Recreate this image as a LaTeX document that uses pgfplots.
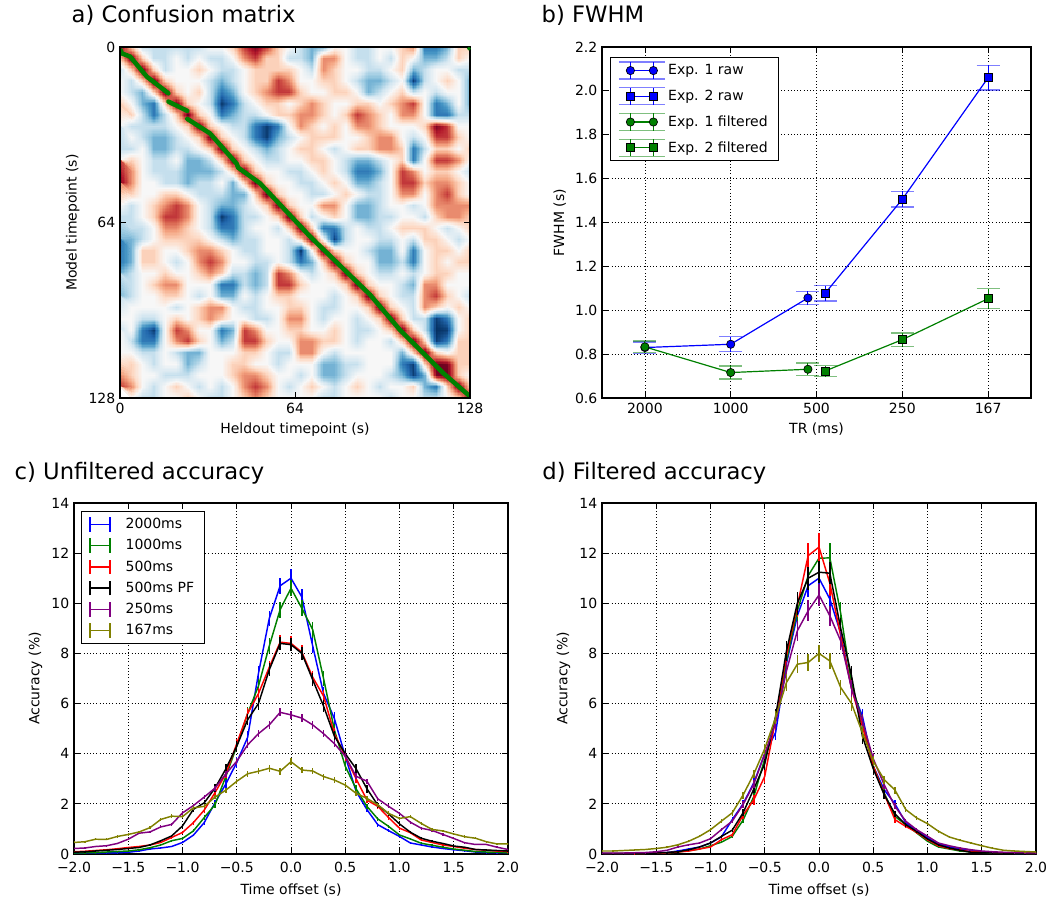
\documentclass[border=0pt]{standalone}
\usepackage{fontspec}
\setmainfont{DejaVu Sans}
\usepackage{pgfplots}
\usepackage{pgfplotstable}
\usepgfplotslibrary{patchplots}
\pgfplotsset{compat=1.18}

\definecolor{mblue}{rgb}{0,0,1}
\definecolor{mgreen}{rgb}{0,0.5,0}
\definecolor{mred}{rgb}{1,0,0}
\definecolor{mpurple}{rgb}{0.5,0,0.5}
\definecolor{molive}{rgb}{0.5,0.5,0}

% confusion matrix, 32 x 32 blocks of 4 timepoints, rows = model timepoint
\pgfplotstableread[row sep=\\]{c\\
8\\1\\-1\\-1\\-1\\-1\\-1\\-1\\0\\0\\1\\3\\4\\3\\1\\0\\-1\\-2\\-2\\0\\0\\-1\\-1\\0\\0\\1\\2\\-3\\-3\\-2\\1\\1\\
1\\8\\1\\-1\\-1\\0\\-1\\0\\-1\\-1\\0\\2\\3\\1\\1\\-1\\-1\\-2\\2\\2\\0\\-1\\-1\\0\\-1\\1\\0\\-2\\-2\\-1\\1\\0\\
-1\\1\\8\\1\\-1\\0\\0\\1\\0\\-1\\-1\\0\\1\\1\\1\\1\\0\\-1\\2\\1\\0\\0\\-1\\-1\\0\\1\\-2\\-1\\0\\0\\-1\\-1\\
0\\-1\\1\\8\\1\\0\\0\\0\\-1\\-2\\-1\\0\\1\\1\\3\\2\\0\\0\\1\\1\\0\\-1\\-2\\-2\\-1\\0\\-4\\-1\\0\\1\\0\\-2\\
0\\-1\\-2\\1\\8\\1\\0\\1\\-1\\-3\\-2\\0\\1\\2\\3\\3\\1\\0\\0\\1\\1\\0\\-2\\-1\\0\\1\\-1\\0\\-1\\0\\0\\-2\\
1\\0\\-2\\-3\\1\\8\\1\\0\\-1\\-4\\-3\\-1\\0\\1\\1\\0\\1\\2\\1\\0\\0\\1\\1\\0\\1\\2\\3\\0\\-3\\-2\\0\\-2\\
1\\1\\-1\\-3\\-1\\1\\8\\1\\0\\-3\\-2\\-1\\-1\\0\\1\\1\\2\\2\\1\\0\\1\\3\\2\\1\\0\\2\\2\\0\\-3\\-3\\-1\\-1\\
0\\-1\\-1\\-1\\-1\\0\\1\\8\\1\\0\\-1\\-1\\-3\\-4\\-3\\0\\2\\1\\0\\1\\0\\2\\2\\1\\0\\0\\0\\1\\4\\3\\0\\0\\
-1\\0\\-1\\-2\\-2\\-1\\0\\1\\8\\1\\0\\-1\\-3\\-4\\-2\\-1\\0\\1\\1\\1\\0\\0\\1\\2\\2\\0\\-1\\0\\3\\3\\1\\0\\
-1\\-1\\0\\-2\\-2\\-1\\-1\\0\\1\\8\\1\\0\\-1\\-2\\-1\\0\\1\\1\\0\\-1\\0\\1\\1\\2\\2\\1\\-3\\-1\\1\\1\\0\\1\\
0\\1\\0\\-1\\-1\\0\\-2\\-2\\-1\\1\\8\\1\\0\\-1\\-1\\0\\0\\1\\1\\0\\-1\\-2\\-2\\-1\\0\\1\\-3\\0\\3\\3\\2\\0\\
3\\2\\0\\-1\\-1\\-1\\-2\\-2\\-2\\-1\\1\\8\\1\\0\\0\\-1\\-1\\0\\1\\0\\-1\\-3\\-3\\-2\\0\\3\\2\\0\\1\\1\\0\\-1\\
4\\2\\0\\0\\-1\\-1\\-2\\-1\\-1\\0\\-2\\1\\8\\1\\0\\0\\-1\\-1\\0\\1\\0\\-2\\-2\\-1\\0\\3\\3\\1\\2\\2\\1\\0\\
2\\1\\0\\0\\1\\1\\0\\-1\\-1\\-1\\-2\\-2\\1\\8\\1\\0\\0\\-1\\-1\\0\\1\\0\\-1\\-1\\0\\2\\2\\0\\2\\3\\1\\0\\
0\\-1\\0\\1\\2\\3\\2\\0\\-1\\-2\\-2\\-1\\0\\1\\8\\1\\0\\0\\2\\2\\0\\-2\\-2\\-1\\0\\0\\-1\\0\\2\\2\\2\\2\\
-1\\-1\\0\\1\\3\\3\\2\\0\\-1\\-4\\-3\\-1\\-1\\0\\1\\8\\1\\-1\\0\\1\\0\\-2\\-2\\-1\\-1\\0\\0\\-1\\1\\2\\2\\1\\
-1\\-1\\-1\\0\\2\\2\\1\\0\\-1\\-3\\-3\\-1\\0\\0\\-1\\1\\8\\1\\-3\\-3\\-1\\0\\-1\\-1\\0\\1\\1\\1\\0\\-1\\0\\1\\
-2\\-2\\-1\\0\\1\\1\\1\\1\\0\\-1\\-2\\-1\\-1\\0\\0\\-1\\1\\8\\0\\-4\\-1\\0\\0\\-1\\-1\\0\\-1\\1\\1\\0\\-1\\0\\
-3\\-2\\1\\1\\0\\0\\1\\2\\2\\1\\0\\-1\\-1\\0\\0\\-1\\-4\\0\\8\\1\\0\\0\\-1\\-2\\-2\\0\\-3\\0\\1\\1\\0\\1\\
-3\\-2\\1\\1\\0\\-1\\0\\2\\3\\2\\0\\0\\-1\\-1\\0\\-1\\-3\\-2\\1\\8\\1\\0\\0\\-2\\-2\\-1\\-3\\0\\1\\0\\1\\1\\
-2\\-1\\0\\0\\1\\0\\0\\1\\2\\1\\-1\\-1\\-2\\-1\\3\\2\\0\\-1\\0\\1\\8\\1\\0\\-1\\-1\\0\\-1\\0\\1\\1\\0\\0\\
-1\\-1\\0\\1\\2\\2\\0\\0\\0\\-3\\-3\\-1\\-2\\-1\\3\\3\\1\\0\\0\\0\\1\\8\\1\\0\\0\\-1\\-2\\2\\2\\0\\0\\0\\
-2\\-1\\0\\0\\1\\1\\0\\-1\\0\\-2\\-2\\0\\-1\\0\\1\\1\\0\\0\\0\\-1\\0\\1\\8\\1\\0\\-1\\-1\\2\\3\\1\\0\\-1\\
-1\\0\\0\\0\\0\\-1\\0\\1\\2\\2\\0\\-1\\-1\\0\\0\\1\\1\\0\\-1\\-1\\0\\0\\1\\8\\1\\0\\-1\\2\\1\\0\\1\\0\\
0\\0\\-1\\-1\\0\\1\\0\\1\\2\\1\\0\\0\\-1\\-1\\0\\2\\2\\0\\-1\\0\\0\\-1\\0\\1\\8\\1\\-1\\-1\\-4\\-3\\0\\1\\
-1\\0\\-3\\-4\\0\\3\\2\\0\\0\\-3\\-2\\3\\2\\0\\0\\1\\1\\0\\0\\1\\0\\-1\\-1\\0\\1\\8\\1\\-1\\-5\\-4\\0\\1\\
0\\-1\\-3\\-3\\0\\2\\3\\1\\0\\-2\\-1\\3\\3\\1\\0\\0\\2\\2\\1\\1\\0\\-1\\0\\0\\-1\\1\\8\\1\\-4\\-3\\1\\1\\
0\\0\\-1\\-1\\0\\-1\\-2\\-2\\0\\0\\0\\1\\1\\0\\-1\\-1\\2\\2\\0\\-1\\0\\0\\0\\0\\0\\-2\\1\\8\\1\\0\\1\\1\\
0\\1\\0\\-1\\0\\0\\-2\\-1\\0\\0\\1\\1\\0\\0\\-1\\0\\0\\0\\-2\\-2\\-1\\-1\\0\\0\\0\\-3\\-4\\1\\8\\4\\1\\1\\
2\\1\\0\\0\\-1\\-1\\-1\\0\\0\\0\\1\\2\\2\\1\\0\\0\\-1\\0\\-2\\-2\\-1\\0\\0\\0\\-1\\-2\\-4\\-2\\4\\8\\1\\0\\
3\\2\\0\\-1\\0\\1\\0\\-1\\0\\-1\\0\\2\\3\\2\\0\\-1\\0\\1\\0\\-1\\0\\1\\0\\-1\\0\\0\\1\\-2\\-3\\1\\8\\1\\
0\\0\\-1\\-1\\0\\0\\1\\0\\-1\\-1\\0\\1\\2\\1\\0\\0\\0\\0\\-1\\-1\\0\\0\\0\\0\\-1\\0\\0\\-1\\-1\\0\\1\\8\\
}\conf

% unfiltered accuracy (%) and standard errors
\pgfplotstableread{
t b g r k p o eb eg er ek ep eo
-2.0 0.04 0.04 0.09 0.07 0.22 0.46 0.02 0.02 0.02 0.02 0.03 0.04
-1.9 0.04 0.05 0.11 0.09 0.24 0.49 0.02 0.02 0.02 0.02 0.03 0.04
-1.8 0.04 0.06 0.14 0.12 0.30 0.59 0.02 0.02 0.02 0.02 0.03 0.04
-1.7 0.04 0.08 0.17 0.15 0.33 0.58 0.02 0.02 0.02 0.02 0.03 0.04
-1.6 0.05 0.10 0.21 0.18 0.42 0.70 0.02 0.02 0.02 0.02 0.03 0.05
-1.5 0.07 0.12 0.26 0.22 0.59 0.78 0.02 0.02 0.03 0.03 0.04 0.05
-1.4 0.12 0.17 0.30 0.26 0.83 0.88 0.02 0.02 0.03 0.03 0.05 0.05
-1.3 0.20 0.25 0.36 0.36 0.88 1.05 0.02 0.03 0.03 0.03 0.05 0.06
-1.2 0.24 0.36 0.46 0.53 1.08 1.38 0.03 0.03 0.04 0.04 0.06 0.07
-1.1 0.30 0.53 0.66 0.72 1.18 1.51 0.03 0.04 0.05 0.05 0.06 0.07
-1.0 0.46 0.62 0.86 1.12 1.64 1.49 0.04 0.05 0.06 0.07 0.07 0.07
-0.9 0.75 0.92 1.25 1.78 1.93 1.84 0.05 0.06 0.08 0.10 0.08 0.08
-0.8 1.25 1.45 1.75 2.04 2.27 1.90 0.08 0.09 0.10 0.12 0.09 0.08
-0.7 2.05 1.97 2.45 2.63 2.63 2.27 0.12 0.12 0.13 0.15 0.10 0.09
-0.6 2.80 3.10 3.20 3.40 3.20 2.55 0.16 0.16 0.16 0.18 0.12 0.10
-0.5 3.65 4.30 4.40 4.30 3.70 2.90 0.20 0.20 0.20 0.20 0.13 0.11
-0.4 4.65 5.60 5.60 5.35 4.35 3.20 0.24 0.25 0.22 0.22 0.14 0.12
-0.3 7.20 6.70 6.40 6.00 4.80 3.30 0.28 0.28 0.24 0.24 0.15 0.12
-0.2 9.40 8.30 7.45 7.35 5.15 3.42 0.30 0.30 0.26 0.26 0.16 0.13
-0.1 10.70 9.75 8.45 8.40 5.65 3.30 0.32 0.32 0.28 0.27 0.16 0.13
0.0 11.00 10.60 8.40 8.35 5.55 3.68 0.35 0.32 0.28 0.27 0.16 0.14
0.1 10.25 9.80 8.05 8.00 5.42 3.35 0.32 0.32 0.27 0.26 0.16 0.13
0.2 8.30 8.95 7.05 6.95 5.15 3.31 0.30 0.32 0.26 0.25 0.16 0.13
0.3 6.40 7.00 6.30 5.90 4.80 3.09 0.28 0.30 0.24 0.24 0.15 0.12
0.4 5.40 4.95 4.80 4.70 4.40 2.95 0.25 0.25 0.22 0.22 0.14 0.12
0.5 3.90 3.50 3.90 4.00 3.90 2.75 0.20 0.20 0.20 0.20 0.13 0.11
0.6 2.50 2.60 3.00 3.40 3.10 2.42 0.15 0.15 0.16 0.18 0.12 0.10
0.7 1.77 1.90 2.15 2.60 2.90 2.22 0.11 0.11 0.13 0.15 0.11 0.09
0.8 1.17 1.40 1.90 1.95 2.20 1.96 0.08 0.09 0.10 0.11 0.09 0.08
0.9 0.93 1.10 1.45 1.60 1.90 1.62 0.06 0.07 0.08 0.09 0.08 0.08
1.0 0.70 0.76 1.03 1.20 1.62 1.42 0.05 0.05 0.06 0.07 0.07 0.07
1.1 0.44 0.60 0.85 0.87 1.27 1.49 0.04 0.04 0.05 0.05 0.06 0.07
1.2 0.36 0.43 0.56 0.63 1.03 1.22 0.03 0.03 0.04 0.04 0.06 0.06
1.3 0.28 0.35 0.46 0.51 0.94 0.98 0.03 0.03 0.03 0.04 0.05 0.06
1.4 0.22 0.27 0.36 0.42 0.78 0.92 0.02 0.03 0.03 0.03 0.05 0.05
1.5 0.17 0.20 0.30 0.32 0.62 0.80 0.02 0.02 0.03 0.03 0.04 0.05
1.6 0.13 0.15 0.23 0.27 0.45 0.69 0.02 0.02 0.02 0.02 0.04 0.05
1.7 0.08 0.10 0.18 0.18 0.38 0.63 0.02 0.02 0.02 0.02 0.03 0.04
1.8 0.06 0.08 0.15 0.16 0.38 0.49 0.02 0.02 0.02 0.02 0.03 0.04
1.9 0.05 0.07 0.12 0.14 0.27 0.40 0.02 0.02 0.02 0.02 0.03 0.04
2.0 0.05 0.05 0.10 0.12 0.18 0.40 0.02 0.02 0.02 0.02 0.03 0.04
}\unfilt

% filtered accuracy (%) and standard errors
\pgfplotstableread{
t b g r k p o eb eg er ek ep eo
-2.0 0.02 0.02 0.02 0.02 0.04 0.12 0.01 0.01 0.01 0.01 0.01 0.02
-1.9 0.02 0.02 0.02 0.02 0.04 0.12 0.01 0.01 0.01 0.01 0.01 0.02
-1.8 0.02 0.02 0.02 0.02 0.04 0.14 0.01 0.01 0.01 0.01 0.01 0.02
-1.7 0.03 0.02 0.02 0.03 0.05 0.16 0.01 0.01 0.01 0.01 0.01 0.02
-1.6 0.03 0.03 0.03 0.03 0.06 0.18 0.01 0.01 0.01 0.01 0.01 0.02
-1.5 0.04 0.04 0.04 0.04 0.09 0.22 0.01 0.01 0.01 0.01 0.02 0.03
-1.4 0.06 0.05 0.05 0.06 0.15 0.27 0.02 0.02 0.02 0.02 0.02 0.03
-1.3 0.12 0.08 0.08 0.09 0.28 0.37 0.02 0.02 0.02 0.02 0.03 0.04
-1.2 0.20 0.13 0.12 0.17 0.37 0.51 0.03 0.02 0.02 0.03 0.04 0.04
-1.1 0.28 0.20 0.20 0.28 0.44 0.71 0.03 0.03 0.03 0.03 0.04 0.05
-1.0 0.44 0.33 0.28 0.44 0.61 0.97 0.04 0.04 0.04 0.04 0.05 0.07
-0.9 0.68 0.47 0.57 0.70 0.97 1.31 0.06 0.05 0.06 0.06 0.07 0.09
-0.8 1.37 0.70 0.77 0.95 1.31 1.64 0.10 0.08 0.08 0.08 0.09 0.11
-0.7 2.00 1.35 1.55 1.64 1.97 2.35 0.14 0.13 0.14 0.14 0.13 0.14
-0.6 2.85 2.30 2.17 2.60 2.80 3.20 0.18 0.18 0.20 0.18 0.17 0.16
-0.5 4.00 3.80 3.10 3.60 4.00 4.20 0.24 0.24 0.25 0.24 0.22 0.20
-0.4 4.84 5.40 5.37 5.50 5.24 5.44 0.30 0.30 0.30 0.30 0.28 0.25
-0.3 7.60 7.70 7.90 8.10 7.30 6.84 0.38 0.38 0.38 0.40 0.36 0.32
-0.2 9.50 9.70 9.90 10.00 8.90 7.57 0.42 0.42 0.45 0.45 0.40 0.35
-0.1 10.70 11.10 11.90 11.00 9.70 7.64 0.45 0.45 0.50 0.45 0.42 0.35
0.0 11.00 11.80 12.24 11.24 10.33 8.00 0.45 0.50 0.55 0.45 0.42 0.35
0.1 10.17 11.81 10.80 11.20 9.50 7.70 0.42 0.60 0.50 0.45 0.40 0.33
0.2 8.80 9.60 8.70 9.00 8.50 6.64 0.40 0.45 0.42 0.42 0.38 0.30
0.3 6.60 6.80 6.60 7.10 6.60 6.00 0.34 0.35 0.34 0.38 0.34 0.28
0.4 5.50 5.30 5.10 4.70 5.30 4.84 0.30 0.30 0.28 0.30 0.30 0.25
0.5 3.50 3.50 3.50 3.40 3.80 3.70 0.24 0.22 0.22 0.24 0.22 0.20
0.6 2.57 2.44 2.40 2.37 2.77 2.97 0.18 0.17 0.17 0.18 0.17 0.16
0.7 2.00 1.50 1.37 1.60 1.90 2.55 0.15 0.12 0.12 0.12 0.12 0.14
0.8 1.24 1.17 1.10 1.17 1.31 1.77 0.09 0.09 0.08 0.09 0.09 0.11
0.9 0.95 0.84 0.87 0.90 0.97 1.44 0.07 0.06 0.06 0.07 0.07 0.09
1.0 0.64 0.51 0.57 0.60 0.71 1.21 0.05 0.05 0.05 0.05 0.05 0.07
1.1 0.41 0.28 0.33 0.37 0.44 0.91 0.04 0.03 0.03 0.04 0.04 0.06
1.2 0.28 0.20 0.22 0.24 0.33 0.68 0.03 0.03 0.03 0.03 0.03 0.05
1.3 0.20 0.12 0.16 0.15 0.24 0.55 0.02 0.02 0.02 0.02 0.03 0.04
1.4 0.15 0.08 0.09 0.07 0.17 0.44 0.02 0.02 0.02 0.02 0.02 0.04
1.5 0.09 0.07 0.09 0.07 0.12 0.33 0.01 0.01 0.01 0.01 0.02 0.03
1.6 0.06 0.05 0.06 0.05 0.09 0.23 0.01 0.01 0.01 0.01 0.02 0.03
1.7 0.04 0.04 0.05 0.04 0.07 0.15 0.01 0.01 0.01 0.01 0.01 0.02
1.8 0.03 0.03 0.04 0.03 0.06 0.12 0.01 0.01 0.01 0.01 0.01 0.02
1.9 0.02 0.02 0.03 0.02 0.05 0.10 0.01 0.01 0.01 0.01 0.01 0.02
2.0 0.02 0.02 0.02 0.02 0.04 0.08 0.01 0.01 0.01 0.01 0.01 0.02
}\filt

\pgfplotsset{
  panel/.style={
    scale only axis, anchor=south west,
    axis line style={line width=0.9pt},
    tick style={black, line width=0.6pt},
    major tick length=4.5pt,
    tick align=inside,
    tick label style={font=\fontsize{10.5}{12}\selectfont},
    label style={font=\fontsize{10.5}{12}\selectfont},
    /pgf/number format/assume math mode=true,
    grid style={black, dotted, line width=0.6pt},
  },
  acc/.style={
    panel, width=325.5pt, height=263.25pt,
    xmin=-2, xmax=2, ymin=0, ymax=14,
    xtick={-2,-1.5,-1,-0.5,0,0.5,1,1.5,2},
    xticklabels={−2.0,−1.5,−1.0,−0.5,0.0,0.5,1.0,1.5,2.0},
    xticklabel style={yshift=-2.5pt},
    xlabel style={yshift=-1.5pt},
    ytick={0,2,4,6,8,10,12,14},
    grid=major,
    xlabel={Time offset (s)}, ylabel={Accuracy (\%)},
  },
  accline/.style={color=#1, line width=1.1pt, mark=none,
    error bars/y dir=both, error bars/y explicit, error bars/error mark=none,
    error bars/error bar style={color=#1, line width=1pt},
    legend image code/.code={
      \draw[mark=none] (0pt,-5.5pt) -- (0pt,5.5pt) (15pt,-5.5pt) -- (15pt,5.5pt);
      \draw[mark=none] (0pt,0pt) -- (15pt,0pt);
      \path (24pt,0pt);
    }},
  fw/.style 2 args={color=#1, line width=0.9pt, mark=#2,
    mark options={draw=black, fill=#1, line width=0.5pt, solid},
    error bars/y dir=both, error bars/y explicit,
    error bars/error bar style={color=#1, line width=0.8pt},
    error bars/error mark options={rotate=90, color=#1, opacity=0.5, mark size=8.6pt, line width=1pt},
    legend image code/.code={
      \draw[mark=none, line width=0.8pt] (0pt,-6.4pt) -- (0pt,6.4pt) (17.25pt,-6.4pt) -- (17.25pt,6.4pt);
      \draw[mark=none, opacity=0.5, line width=1pt] (-8.6pt,6.4pt) -- (25.85pt,6.4pt) (-8.6pt,-6.4pt) -- (25.85pt,-6.4pt);
      \draw plot coordinates {(0pt,0pt) (17.25pt,0pt)};
    }},
}

\begin{document}
\begin{tikzpicture}[font=\fontsize{10.5}{12.6}\selectfont]
\path[use as bounding box] (0,0) rectangle (791.25pt,672.75pt);

% a) confusion matrix
\begin{axis}[panel, at={(90pt,374.25pt)}, width=262.5pt, height=263.25pt,
  xmin=0, xmax=128, ymin=0, ymax=128, y dir=reverse,
  xtick={0,64,128}, ytick={0,64,128},
  xlabel={Heldout timepoint (s)}, ylabel={Model timepoint (s)},
  axis on top,
  colormap={rdbu}{rgb255=(5,48,97) rgb255=(33,102,172) rgb255=(67,147,195)
    rgb255=(146,197,222) rgb255=(209,229,240) rgb255=(247,247,247)
    rgb255=(253,219,199) rgb255=(244,165,130) rgb255=(214,96,77)
    rgb255=(178,24,43) rgb255=(103,0,31)},
  point meta min=-4.2, point meta max=4.2]
\addplot[surf, shader=interp, patch type=bilinear, mesh/cols=32, point meta=\thisrow{c}]
  table[x index=0, y index=0, x expr={mod(\coordindex,32)*128/31}, y expr={floor(\coordindex/32)*128/31}] {\conf};
\addplot[color=mgreen, line width=3.4pt, line cap=round, line join=round]
  coordinates {(0.3,1.2) (0.6,2.3) (3.7,3.5) (9.8,10.8) (17.7,16.9)};
\addplot[color=mgreen, line width=3.4pt, line cap=round, line join=round]
  coordinates {(17.7,19.9) (24.6,23.3)};
\addplot[color=mgreen, line width=3.4pt, line cap=round, line join=round]
  coordinates {(24.6,26.2) (32.9,31.5) (42.7,42.6) (43.2,44.0) (51.2,49.7)
    (69.5,69.1) (91.5,90.4) (102.4,103.2) (118.3,119.0) (127.4,126.9)};
\addplot[color=mgreen, only marks, mark=*, mark size=1.2pt] coordinates {(127.6,0.6)};
\end{axis}

% b) FWHM
\begin{axis}[panel, at={(451.5pt,374.25pt)}, width=321.75pt, height=263.25pt,
  xmin=-0.5, xmax=4.5, ymin=0.6, ymax=2.2,
  xtick={0,1,2,3,4}, xticklabels={2000,1000,500,250,167},
  ytick={0.6,0.8,1.0,1.2,1.4,1.6,1.8,2.0,2.2},
  yticklabel style={/pgf/number format/.cd, fixed, fixed zerofill, precision=1},
  grid=major,
  xlabel={TR (ms)}, ylabel={FWHM (s)},
  legend style={at={(0.018,0.972)}, anchor=north west, draw=black, line width=0.8pt,
    font=\fontsize{10.5}{12}\selectfont, row sep=5.5pt, inner xsep=6pt, inner ysep=3pt},
  legend cell align=left]
\addplot[fw={mblue}{*}, mark size=3.1pt] coordinates {
  (0,0.830) +- (0,0.026) (1,0.845) +- (0,0.034) (1.9,1.056) +- (0,0.030)};
\addlegendentry{Exp. 1 raw}
\addplot[fw={mblue}{square*}, mark size=3.0pt] coordinates {
  (2.1,1.077) +- (0,0.035) (3,1.506) +- (0,0.036) (4,2.060) +- (0,0.056)};
\addlegendentry{Exp. 2 raw}
\addplot[fw={mgreen}{*}, mark size=3.1pt] coordinates {
  (0,0.833) +- (0,0.027) (1,0.716) +- (0,0.030) (1.9,0.731) +- (0,0.028)};
\addlegendentry{Exp. 1 filtered}
\addplot[fw={mgreen}{square*}, mark size=3.0pt] coordinates {
  (2.1,0.723) +- (0,0.025) (3,0.866) +- (0,0.030) (4,1.053) +- (0,0.045)};
\addlegendentry{Exp. 2 filtered}
\end{axis}

% c) unfiltered accuracy
\begin{axis}[acc, at={(55.5pt,32.25pt)},
  legend style={at={(0.016,0.977)}, anchor=north west, draw=black, line width=0.8pt,
    font=\fontsize{10.5}{12}\selectfont, row sep=2.6pt, inner xsep=6pt, inner ysep=3pt},
  legend cell align=left]
\addplot[accline=mblue] table[x=t, y=b, y error=eb] {\unfilt};
\addlegendentry{2000ms}
\addplot[accline=mgreen] table[x=t, y=g, y error=eg] {\unfilt};
\addlegendentry{1000ms}
\addplot[accline=mred] table[x=t, y=r, y error=er] {\unfilt};
\addlegendentry{500ms}
\addplot[accline=black] table[x=t, y=k, y error=ek] {\unfilt};
\addlegendentry{500ms PF}
\addplot[accline=mpurple] table[x=t, y=p, y error=ep] {\unfilt};
\addlegendentry{250ms}
\addplot[accline=molive] table[x=t, y=o, y error=eo] {\unfilt};
\addlegendentry{167ms}
\end{axis}

% d) filtered accuracy
\begin{axis}[acc, at={(451.5pt,32.25pt)}]
\addplot[accline=mblue] table[x=t, y=b, y error=eb] {\filt};
\addplot[accline=mgreen] table[x=t, y=g, y error=eg] {\filt};
\addplot[accline=mred] table[x=t, y=r, y error=er] {\filt};
\addplot[accline=black] table[x=t, y=k, y error=ek] {\filt};
\addplot[accline=mpurple] table[x=t, y=p, y error=ep] {\filt};
\addplot[accline=molive] table[x=t, y=o, y error=eo] {\filt};
\end{axis}

% panel titles
\node[anchor=base west, font=\fontsize{17}{20}\selectfont] at (50.25pt,655.5pt) {a) Confusion matrix};
\node[anchor=base west, font=\fontsize{17}{20}\selectfont] at (402.75pt,655.5pt) {b) FWHM};
\node[anchor=base west, font=\fontsize{17}{20}\selectfont] at (7.5pt,313.5pt) {c) Unfiltered accuracy};
\node[anchor=base west, font=\fontsize{17}{20}\selectfont] at (403.25pt,313.5pt) {d) Filtered accuracy};
\end{tikzpicture}
\end{document}
